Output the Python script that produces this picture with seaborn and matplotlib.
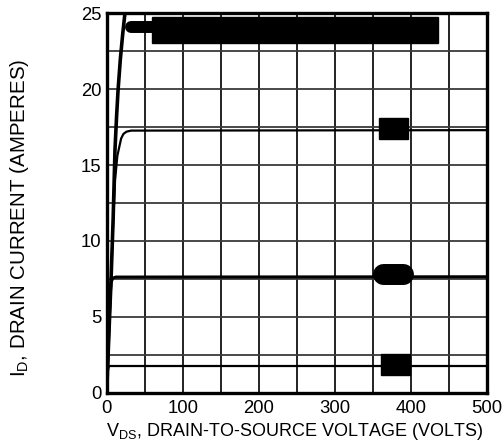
import matplotlib
matplotlib.use("Agg")
import matplotlib.pyplot as plt
import seaborn as sns
import pandas as pd
from matplotlib.patches import Rectangle

# Output characteristics: drain current vs drain-to-source voltage
vds_top = [0, 3, 5.7, 8.5, 10.9, 13, 14.9, 18, 21, 24]
id_top = [0, 4.0, 7.4, 11.5, 16.0, 18.2, 19.9, 22.0, 23.6, 25.0]

vds_17 = [0, 3, 5.7, 8.5, 11, 14, 17, 19, 22, 26, 32, 500]
id_17 = [0, 4.0, 7.4, 11.2, 14.0, 15.6, 16.3, 16.75, 17.05, 17.2, 17.27, 17.3]

vds_7 = [0, 2, 3.5, 4.8, 6, 8, 12, 500]
id_7 = [0, 2.8, 5.0, 6.6, 7.3, 7.55, 7.62, 7.64]

vds_2 = [0, 0.8, 1.6, 2.5, 4, 500]
id_2 = [0, 1.0, 1.5, 1.7, 1.76, 1.76]

x_ticks = [0, 100, 200, 300, 400, 500]
y_ticks = [0, 5, 10, 15, 20, 25]

curves = pd.concat([
    pd.DataFrame({"vds": vds_top, "id": id_top, "curve": "top"}),
    pd.DataFrame({"vds": vds_17, "id": id_17, "curve": "c17"}),
    pd.DataFrame({"vds": vds_7, "id": id_7, "curve": "c7"}),
    pd.DataFrame({"vds": vds_2, "id": id_2, "curve": "c2"}),
])

sns.set_theme(style="white")
plt.rcParams["font.family"] = ["Liberation Sans", "DejaVu Sans"]
plt.rcParams["mathtext.fontset"] = "custom"
plt.rcParams["mathtext.rm"] = "Liberation Sans"

fig = plt.figure(figsize=(5.04, 4.43), dpi=100)
ax = fig.add_axes([0.2117, 0.1135, 0.754, 0.8565])

ax.set_xlim(0, 500)
ax.set_ylim(0, 25)

# grid: every 50 V and every 2.5 A
for gx in range(50, 500, 50):
    ax.axvline(gx, color="#111111", lw=1.3, zorder=1)
for k in range(1, 10):
    ax.axhline(k * 2.5, color="#3a3a3a", lw=1.3, zorder=1)

widths = {"top": 2.6, "c17": 1.6, "c7": 2.2, "c2": 1.6}
for name, grp in curves.groupby("curve", sort=False):
    sns.lineplot(data=grp, x="vds", y="id", sort=False, color="black",
                 lw=widths[name], ax=ax, zorder=3, estimator=None)

# label blocks
ax.plot([32, 60], [24.1, 24.1], color="black", lw=8.6, solid_capstyle="round", zorder=4)
for (x0, y0, x1, y1) in [(59.6, 23.04, 436, 24.76),
                         (358, 16.74, 396, 18.1),
                         (361, 1.17, 399, 2.55)]:
    ax.add_patch(Rectangle((x0, y0), x1 - x0, y1 - y0, color="black", zorder=5))
ax.plot([363, 390], [7.79, 7.79], color="black", lw=15.1, solid_capstyle="round", zorder=5)

ax.set_xticks(x_ticks)
ax.set_yticks(y_ticks)
ax.tick_params(axis="both", length=0, labelsize=13.3, colors="black")
ax.tick_params(axis="x", pad=5)
ax.tick_params(axis="y", pad=4)
ax.set_xlabel("V$_{\\mathrm{DS}}$, DRAIN-TO-SOURCE VOLTAGE (VOLTS)", fontsize=13.0,
              color="black")
ax.set_ylabel("I$_{\\mathrm{D}}$, DRAIN CURRENT (AMPERES)", fontsize=14.8,
              color="black")
ax.xaxis.set_label_coords(0.495, -0.075)
ax.yaxis.set_label_coords(-0.2, 0.46)

for side in ["left", "bottom", "top", "right"]:
    ax.spines[side].set_visible(True)
    ax.spines[side].set_color("black")
    ax.spines[side].set_linewidth(2.4)
    ax.spines[side].set_zorder(6)

fig.savefig("out.png", dpi=100)
